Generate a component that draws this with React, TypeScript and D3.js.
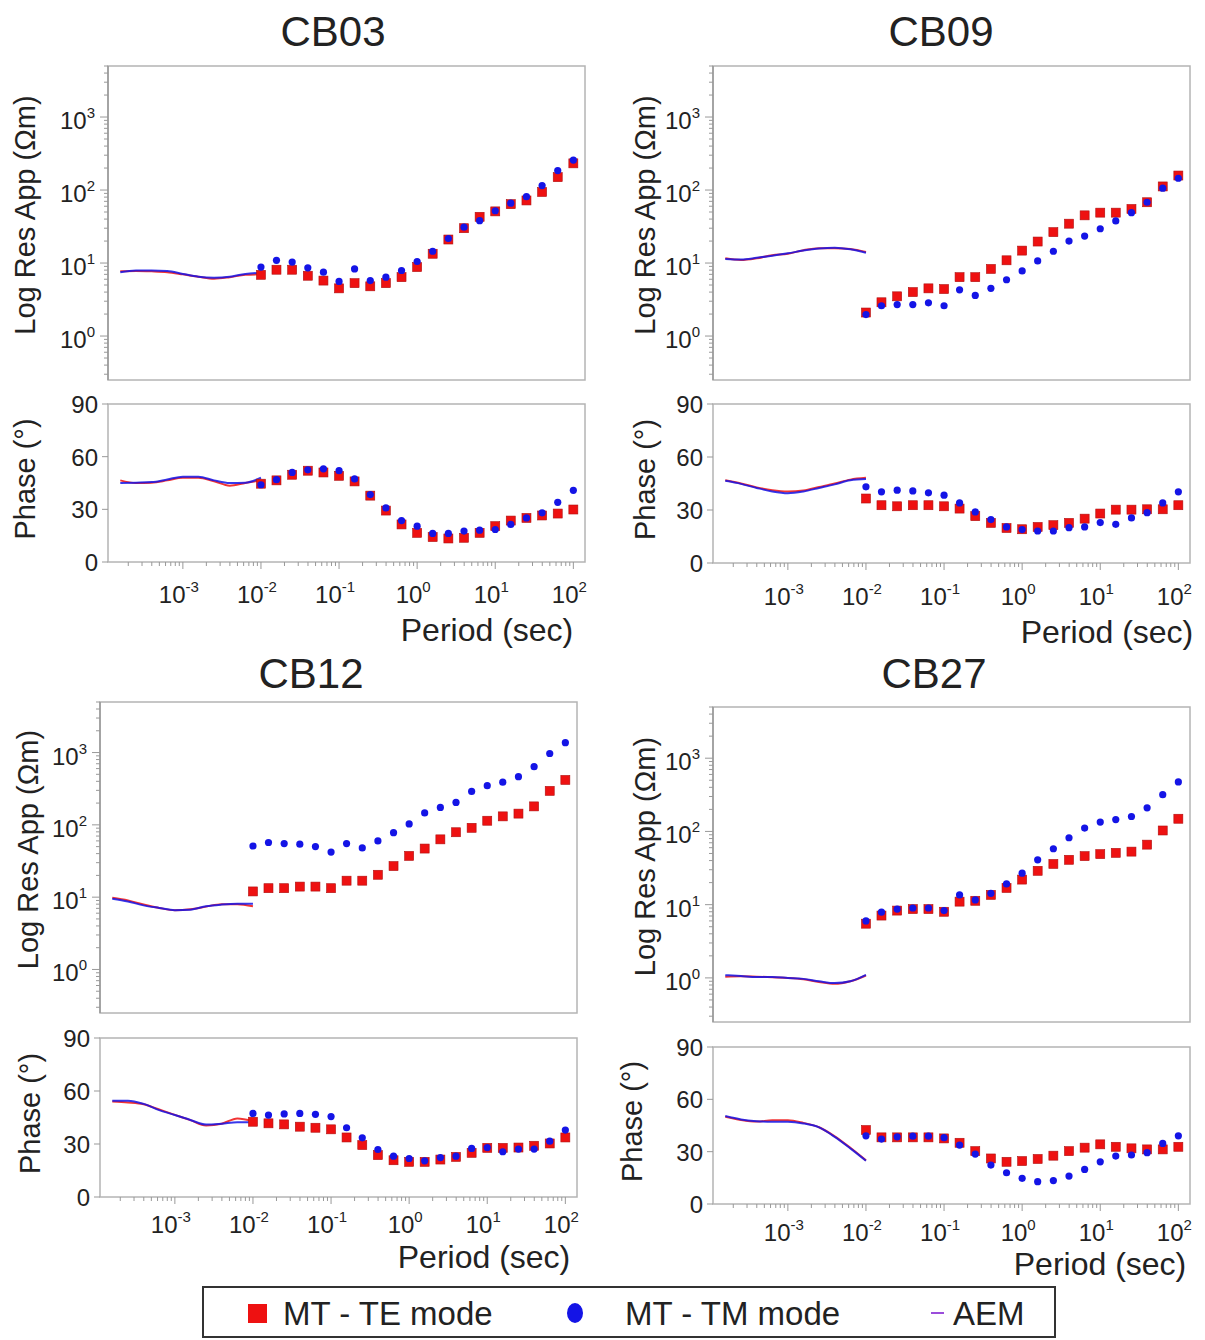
import * as d3 from 'd3';
import { useEffect, useRef } from 'react';

// periods (s) of the MT soundings and of the AEM derived curves
const mtPeriods = [0.01, 0.0158, 0.0251, 0.0398, 0.0631, 0.1, 0.158, 0.251, 0.398, 0.631, 1, 1.58, 2.51, 3.98, 6.31, 10, 15.8, 25.1, 39.8, 63.1, 100];
const aemPeriods = [0.000158, 0.000251, 0.000398, 0.000631, 0.001, 0.00158, 0.00251, 0.00398, 0.00631, 0.01];

const stations = ['CB03', 'CB09', 'CB12', 'CB27'];

// axis ticks
const resMajorTicks = [1, 10, 100, 1000];
const resTickExp = ['0', '1', '2', '3'];
const periodMajorTicks = [0.001, 0.01, 0.1, 1, 10, 100];
const periodTickExp = ['-3', '-2', '-1', '0', '1', '2'];
const phaseTicks = [0, 30, 60, 90];

// CB03
const cb03ResTE = [6.9, 8.1, 8.1, 6.7, 5.75, 4.5, 5.3, 4.8, 5.3, 6.4, 8.8, 13.4, 21, 30, 43, 51, 64, 72, 94, 150, 232];
const cb03ResTM = [8.8, 10.9, 10.3, 8.6, 7.5, 5.6, 8.3, 5.75, 6.4, 7.9, 10.5, 14.5, 21.7, 31, 38, 52, 66, 81, 115, 185, 257];
const cb03PhTE = [44.6, 46.5, 49.7, 52, 51, 49.1, 45.9, 37.8, 29.3, 21.4, 16.6, 14.2, 13.4, 13.8, 16.6, 20.4, 23.6, 25.1, 26.5, 27.6, 29.9];
const cb03PhTM = [44, 46.9, 51, 52.5, 53.1, 52, 47.3, 38.4, 30.8, 23.6, 20.4, 16.3, 16.3, 17.6, 18.1, 18.5, 21.4, 25.1, 28, 34, 40.8];
const cb03AemResTE = [7.7, 7.8, 7.7, 7.5, 7.0, 6.5, 6.1, 6.4, 6.9, 7.0];
const cb03AemResTM = [7.5, 7.9, 7.9, 7.8, 7.1, 6.5, 6.3, 6.5, 7.1, 7.35];
const cb03AemPhTE = [46.5, 45, 45.2, 46.5, 48, 48, 46, 43.5, 45, 46.5];
const cb03AemPhTM = [45, 45.2, 45.5, 47, 48.6, 48.6, 46.5, 45, 45.2, 48];

// CB09
const cb09ResTE = [2.1, 2.9, 3.5, 4.0, 4.5, 4.4, 6.4, 6.4, 8.3, 10.9, 14.8, 19.7, 26.5, 34.6, 45, 49, 49, 55, 68, 112, 158];
const cb09ResTM = [1.97, 2.6, 2.7, 2.7, 2.85, 2.6, 4.3, 3.6, 4.5, 5.9, 7.8, 10.7, 14.5, 20, 23.4, 29.5, 37.8, 49, 68, 106, 145];
const cb09PhTE = [36.5, 32.7, 32.1, 32.7, 32.7, 32.1, 30.8, 26.5, 22.7, 19.8, 19.1, 20.4, 21.4, 22.7, 25.1, 28, 30.2, 30.2, 30.4, 30.4, 32.7];
const cb09PhTM = [43.1, 40.3, 41.2, 40.8, 39.7, 38.4, 34, 28.9, 24.6, 20.4, 18.9, 18.1, 18.1, 20, 20.4, 22.9, 21.9, 25.5, 28.5, 34, 40.3];
const cb09AemResTE = [11.6, 11.0, 11.6, 12.8, 13.4, 15, 16, 16, 15.6, 14.2];
const cb09AemResTM = [11.4, 11.2, 11.8, 12.6, 13.6, 14.8, 15.8, 16.2, 15.4, 13.8];
const cb09AemPhTE = [46.8, 45, 42.8, 41.2, 40.5, 41, 43, 45, 47.2, 48.2];
const cb09AemPhTM = [46.5, 44.8, 42.5, 40.5, 39.5, 40.5, 42.5, 44.5, 46.8, 47.5];

// CB12
const cb12ResTE = [12, 13.3, 13.3, 14, 14, 13.3, 16.9, 16.9, 20.4, 26.9, 37.2, 47, 63, 79, 91, 114, 131, 143, 180, 295, 418];
const cb12ResTM = [51, 57, 55, 54, 50, 42, 55, 48, 60, 78, 103, 146, 174, 204, 290, 348, 389, 464, 637, 970, 1370];
const cb12PhTE = [42.6, 41.7, 41.1, 39.8, 39.2, 38.3, 33.7, 29.4, 23.7, 20.8, 19.9, 19.9, 21.2, 22.7, 25, 27.8, 27.8, 28, 29, 30.3, 33.7];
const cb12PhTM = [47.3, 46.4, 47, 47.3, 46.8, 45.5, 39.2, 33.5, 26.9, 23.1, 21.8, 20.5, 22.3, 23.1, 27.5, 28, 25.6, 27.1, 27.1, 31.6, 37.9];
const cb12AemResTE = [9.8, 9.0, 7.9, 7.1, 6.6, 6.8, 7.4, 8.0, 8.0, 7.5];
const cb12AemResTM = [9.5, 8.7, 7.7, 7.1, 6.6, 6.7, 7.5, 7.9, 8.1, 8.1];
const cb12AemPhTE = [54, 53.5, 52.5, 49.5, 46.5, 43.5, 40.5, 41.5, 44.5, 43];
const cb12AemPhTM = [54.5, 54.5, 52.7, 49.2, 46.4, 43.6, 41, 41.5, 42.3, 42.3];

// CB27
const cb27ResTE = [5.5, 7.1, 8.3, 8.7, 8.7, 8.0, 11, 11.3, 13.6, 16.9, 22, 29, 36, 41, 46, 49, 51, 53, 66, 103, 149];
const cb27ResTM = [6.0, 7.9, 8.7, 9.0, 9.0, 8.3, 13.6, 11.6, 14.3, 19.2, 26.9, 41, 58, 82, 111, 134, 145, 160, 210, 318, 474];
const cb27PhTE = [42.4, 38.2, 38.2, 38.2, 38.2, 37.6, 35.1, 30.3, 26.1, 24.2, 24.6, 25.8, 27.7, 30.3, 32.3, 34.2, 32.8, 31.9, 31.3, 31.3, 32.8];
const cb27PhTM = [39.1, 37.2, 38.5, 38.9, 38.9, 38, 33.8, 28.6, 22.3, 17.9, 14.7, 12.8, 13.4, 16, 19.8, 24.2, 27.5, 28.1, 29.4, 34.7, 39.1];
const cb27AemResTE = [1.04, 1.05, 1.04, 1.02, 1.0, 0.96, 0.88, 0.83, 0.9, 1.08];
const cb27AemResTM = [1.09, 1.06, 1.03, 1.03, 1.0, 0.97, 0.9, 0.85, 0.9, 1.1];
const cb27AemPhTE = [50, 48.2, 47.3, 48, 48, 46.5, 44, 38.8, 32.2, 25];
const cb27AemPhTM = [50.4, 48.5, 47.5, 47.1, 47.1, 46.2, 43.9, 38.5, 31.9, 24.8];

const legendItems = ['MT - TE mode', 'MT - TM mode', 'AEM'];

const stationData = {
    CB03: { resTE: cb03ResTE, resTM: cb03ResTM, phTE: cb03PhTE, phTM: cb03PhTM, aemResTE: cb03AemResTE, aemResTM: cb03AemResTM, aemPhTE: cb03AemPhTE, aemPhTM: cb03AemPhTM },
    CB09: { resTE: cb09ResTE, resTM: cb09ResTM, phTE: cb09PhTE, phTM: cb09PhTM, aemResTE: cb09AemResTE, aemResTM: cb09AemResTM, aemPhTE: cb09AemPhTE, aemPhTM: cb09AemPhTM },
    CB12: { resTE: cb12ResTE, resTM: cb12ResTM, phTE: cb12PhTE, phTM: cb12PhTM, aemResTE: cb12AemResTE, aemResTM: cb12AemResTM, aemPhTE: cb12AemPhTE, aemPhTM: cb12AemPhTM },
    CB27: { resTE: cb27ResTE, resTM: cb27ResTM, phTE: cb27PhTE, phTM: cb27PhTM, aemResTE: cb27AemResTE, aemResTM: cb27AemResTM, aemPhTE: cb27AemPhTE, aemPhTM: cb27AemPhTM },
};

// panel placement on the page
const layout = [
    { left: 108, right: 585, resTop: 66, resBottom: 380, phTop: 404, phBottom: 562, titleX: 333, titleY: 46, resLabelX: 25, phLabelX: 25, tickY: 603, xTitleX: 487, xTitleY: 641 },
    { left: 713, right: 1190, resTop: 66, resBottom: 380, phTop: 404, phBottom: 563, titleX: 941, titleY: 46, resLabelX: 645, phLabelX: 645, tickY: 605, xTitleX: 1107, xTitleY: 643 },
    { left: 100, right: 577, resTop: 702, resBottom: 1013, phTop: 1038, phBottom: 1197, titleX: 311, titleY: 688, resLabelX: 28, phLabelX: 30, tickY: 1233, xTitleX: 484, xTitleY: 1268 },
    { left: 713, right: 1190, resTop: 707, resBottom: 1022, phTop: 1047, phBottom: 1204, titleX: 934, titleY: 688, resLabelX: 645, phLabelX: 632, tickY: 1241, xTitleX: 1100, xTitleY: 1275 },
];

const font = 'Liberation Sans, Arial, Helvetica, sans-serif';
const textColor = '#222';
const axisColor = '#999';
const boxColor = '#b4b4b4';
const teColor = '#ee1111';
const tmColor = '#1414e6';
const aemColor = '#9b4ddb';

function minorTicks(lo, hi) {
    const out = [];
    for (let e = -5; e <= 4; e++) {
        for (let m = 1; m <= 9; m++) {
            const v = m * Math.pow(10, e);
            if (v >= lo && v <= hi) out.push(v);
        }
    }
    return out;
}

function drawStation(svg, name, p) {
    const d = stationData[name];
    const x = d3.scaleLog().domain([1.1e-4, 141]).range([p.left, p.right]);
    const yRes = d3.scaleLog().domain([0.25, 5000]).range([p.resBottom, p.resTop]);
    const yPh = d3.scaleLinear().domain([0, 90]).range([p.phBottom, p.phTop]);

    const g = svg.append('g');

    // title
    g.append('text')
        .attr('x', p.titleX).attr('y', p.titleY)
        .attr('text-anchor', 'middle')
        .attr('font-size', 42)
        .attr('fill', textColor)
        .text(name);

    // frames
    g.append('rect')
        .attr('x', p.left).attr('y', p.resTop)
        .attr('width', p.right - p.left).attr('height', p.resBottom - p.resTop)
        .attr('fill', 'none').attr('stroke', boxColor).attr('stroke-width', 1.5);
    g.append('rect')
        .attr('x', p.left).attr('y', p.phTop)
        .attr('width', p.right - p.left).attr('height', p.phBottom - p.phTop)
        .attr('fill', 'none').attr('stroke', boxColor).attr('stroke-width', 1.5);

    // resistivity axis ticks
    const resMinor = minorTicks(0.25, 5000);
    g.append('g').selectAll('line')
        .data(resMinor)
        .join('line')
        .attr('x1', v => p.left - (resMajorTicks.includes(v) ? 8 : 4))
        .attr('x2', p.left)
        .attr('y1', v => yRes(v)).attr('y2', v => yRes(v))
        .attr('stroke', axisColor).attr('stroke-width', 1);
    g.append('line')
        .attr('x1', p.left).attr('x2', p.left)
        .attr('y1', p.resTop).attr('y2', p.resBottom)
        .attr('stroke', axisColor).attr('stroke-width', 1.5);

    const resLabels = g.append('g').selectAll('text')
        .data(resMajorTicks)
        .join('text')
        .attr('x', p.left - 13)
        .attr('y', v => yRes(v) + 12)
        .attr('text-anchor', 'end')
        .attr('font-size', 24)
        .attr('fill', textColor)
        .text('10');
    resLabels.append('tspan')
        .attr('dy', -11)
        .attr('font-size', 15)
        .text((v, i) => resTickExp[i]);

    // phase axis ticks
    g.append('g').selectAll('line')
        .data(phaseTicks)
        .join('line')
        .attr('x1', p.left - 6).attr('x2', p.left)
        .attr('y1', v => yPh(v)).attr('y2', v => yPh(v))
        .attr('stroke', axisColor).attr('stroke-width', 1);
    g.append('g').selectAll('text')
        .data(phaseTicks)
        .join('text')
        .attr('x', p.left - 10)
        .attr('y', v => yPh(v) + 9)
        .attr('text-anchor', 'end')
        .attr('font-size', 24)
        .attr('fill', textColor)
        .text(v => v);

    // period axis ticks
    const perMinor = minorTicks(1.1e-4, 141);
    g.append('g').selectAll('line')
        .data(perMinor)
        .join('line')
        .attr('x1', v => x(v)).attr('x2', v => x(v))
        .attr('y1', p.phBottom)
        .attr('y2', v => p.phBottom + (periodMajorTicks.includes(v) ? 7 : 4))
        .attr('stroke', axisColor).attr('stroke-width', 1);
    const perLabels = g.append('g').selectAll('text')
        .data(periodMajorTicks)
        .join('text')
        .attr('x', v => x(v) - 4)
        .attr('y', p.tickY)
        .attr('text-anchor', 'middle')
        .attr('font-size', 24)
        .attr('fill', textColor)
        .text('10');
    perLabels.append('tspan')
        .attr('dy', -11)
        .attr('font-size', 15)
        .text((v, i) => periodTickExp[i]);

    // axis titles
    g.append('text')
        .attr('transform', `translate(${p.resLabelX},${(p.resTop + p.resBottom) / 2 - 8}) rotate(-90)`)
        .attr('text-anchor', 'middle')
        .attr('dominant-baseline', 'central')
        .attr('font-size', 29)
        .attr('fill', textColor)
        .text('Log Res App (Ωm)');
    g.append('text')
        .attr('transform', `translate(${p.phLabelX},${(p.phTop + p.phBottom) / 2 - 4}) rotate(-90)`)
        .attr('text-anchor', 'middle')
        .attr('dominant-baseline', 'central')
        .attr('font-size', 29)
        .attr('fill', textColor)
        .text('Phase (°)');
    g.append('text')
        .attr('x', p.xTitleX).attr('y', p.xTitleY)
        .attr('text-anchor', 'middle')
        .attr('font-size', 32)
        .attr('fill', textColor)
        .text('Period (sec)');

    // AEM curves
    const resLine = d3.line().x((v, i) => x(aemPeriods[i])).y(v => yRes(v)).curve(d3.curveMonotoneX);
    const phLine = d3.line().x((v, i) => x(aemPeriods[i])).y(v => yPh(v)).curve(d3.curveMonotoneX);
    [[d.aemResTE, teColor, resLine], [d.aemResTM, tmColor, resLine], [d.aemPhTE, teColor, phLine], [d.aemPhTM, tmColor, phLine]]
        .forEach(([vals, color, gen]) => {
            g.append('path')
                .attr('d', gen(vals))
                .attr('fill', 'none')
                .attr('stroke', color)
                .attr('stroke-opacity', 0.85)
                .attr('stroke-width', 2);
        });

    // MT data: TE squares, TM dots on top
    const sq = 9;
    [[d.resTE, yRes], [d.phTE, yPh]].forEach(([vals, yS]) => {
        g.append('g').selectAll('rect')
            .data(vals)
            .join('rect')
            .attr('x', (v, i) => x(mtPeriods[i]) - sq / 2)
            .attr('y', v => yS(v) - sq / 2)
            .attr('width', sq).attr('height', sq)
            .attr('fill', teColor)
            .attr('stroke', '#b01010').attr('stroke-width', 0.6);
    });
    [[d.resTM, yRes], [d.phTM, yPh]].forEach(([vals, yS]) => {
        g.append('g').selectAll('circle')
            .data(vals)
            .join('circle')
            .attr('cx', (v, i) => x(mtPeriods[i]))
            .attr('cy', v => yS(v))
            .attr('r', 3.6)
            .attr('fill', tmColor);
    });
}

export default function App() {
    const ref = useRef(null);

    useEffect(() => {
        const width = 1205;
        const height = 1340;
        const svg = d3.create('svg')
            .attr('width', width)
            .attr('height', height)
            .attr('font-family', font)
            .style('display', 'block')
            .style('background', '#fff');

        stations.forEach((name, i) => drawStation(svg, name, layout[i]));

        // legend
        const lg = svg.append('g');
        lg.append('rect')
            .attr('x', 203).attr('y', 1287)
            .attr('width', 852).attr('height', 50)
            .attr('fill', '#fff').attr('stroke', '#333').attr('stroke-width', 2);
        lg.append('rect')
            .attr('x', 248).attr('y', 1304).attr('width', 19).attr('height', 19)
            .attr('fill', teColor);
        lg.append('ellipse')
            .attr('cx', 575).attr('cy', 1313).attr('rx', 8).attr('ry', 10)
            .attr('fill', tmColor);
        lg.append('line')
            .attr('x1', 931).attr('x2', 944).attr('y1', 1313).attr('y2', 1313)
            .attr('stroke', aemColor).attr('stroke-width', 2);
        const lx = [283, 625, 953];
        lg.selectAll('text.leg')
            .data(legendItems)
            .join('text')
            .attr('class', 'leg')
            .attr('x', (t, i) => lx[i])
            .attr('y', 1325)
            .attr('font-size', 33)
            .attr('fill', textColor)
            .text(t => t);

        ref.current.innerHTML = '';
        ref.current.append(svg.node());
    }, []);

    return <div ref={ref} style={{ position: 'absolute', left: 0, top: 0 }}></div>;
}
